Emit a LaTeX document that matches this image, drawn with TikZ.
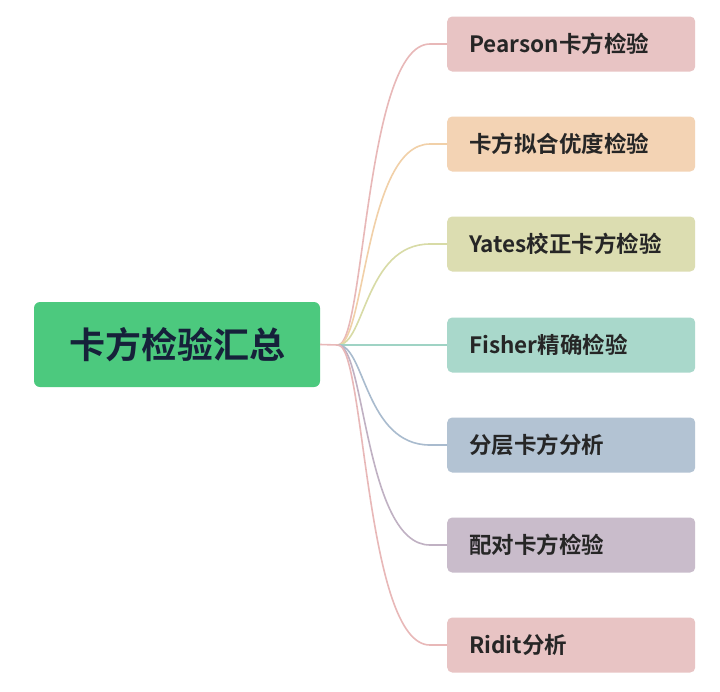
\documentclass[tikz,border=0pt]{standalone}
\usepackage{fontspec}
\setmainfont{Noto Sans CJK SC}[BoldFont={Noto Sans CJK SC Bold}]
\begin{document}
\begin{tikzpicture}[x=1pt,y=-1pt,
 leaf/.style={rounded corners=5pt,minimum width=248pt,minimum height=55pt,anchor=west,inner xsep=22pt,text width=204pt,align=left,font=\fontsize{22.5}{26}\selectfont\bfseries,text=black!85},
 br/.style={line width=1.6pt}]
\useasboundingbox (0,0) rectangle (720,691);
\fill[white] (0,0) rectangle (720,691);
\definecolor{c1}{HTML}{E8C4C4}\definecolor{l1}{HTML}{E8B8B8}
\definecolor{c2}{HTML}{F3D3B4}\definecolor{l2}{HTML}{F1D0A8}
\definecolor{c3}{HTML}{DCDDB1}\definecolor{l3}{HTML}{D8DBA6}
\definecolor{c4}{HTML}{A9D8CB}\definecolor{l4}{HTML}{9FD3C4}
\definecolor{c5}{HTML}{B3C3D3}\definecolor{l5}{HTML}{A9BBCE}
\definecolor{c6}{HTML}{C9BCCB}\definecolor{l6}{HTML}{C0B1C3}
\definecolor{rootbg}{HTML}{4CC97E}\definecolor{roottx}{HTML}{16213A}
\node[fill=rootbg,rounded corners=6pt,minimum width=286pt,minimum height=85pt,font=\fontsize{36}{40}\selectfont\bfseries,text=roottx] (root) at (177,344.5) {卡方检验汇总};
\coordinate (s) at (338,345);
\draw[br,color=l1] (root.east) -- (s);
\foreach \i/\y/\c/\l/\t in {1/44/c1/l1/Pearson卡方检验,2/144/c2/l2/卡方拟合优度检验,3/244/c3/l3/Yates校正卡方检验,4/345/c4/l4/Fisher精确检验,5/445/c5/l5/分层卡方分析,6/545/c6/l6/配对卡方检验,7/645/c1/l1/Ridit分析}{
 \node[leaf,fill=\c] (n\i) at (447,\y) {\t};
 \draw[br,color=\l] (s) .. controls (365,345) and (365,\y) .. (430,\y) -- (n\i.west);
}
\end{tikzpicture}
\end{document}
